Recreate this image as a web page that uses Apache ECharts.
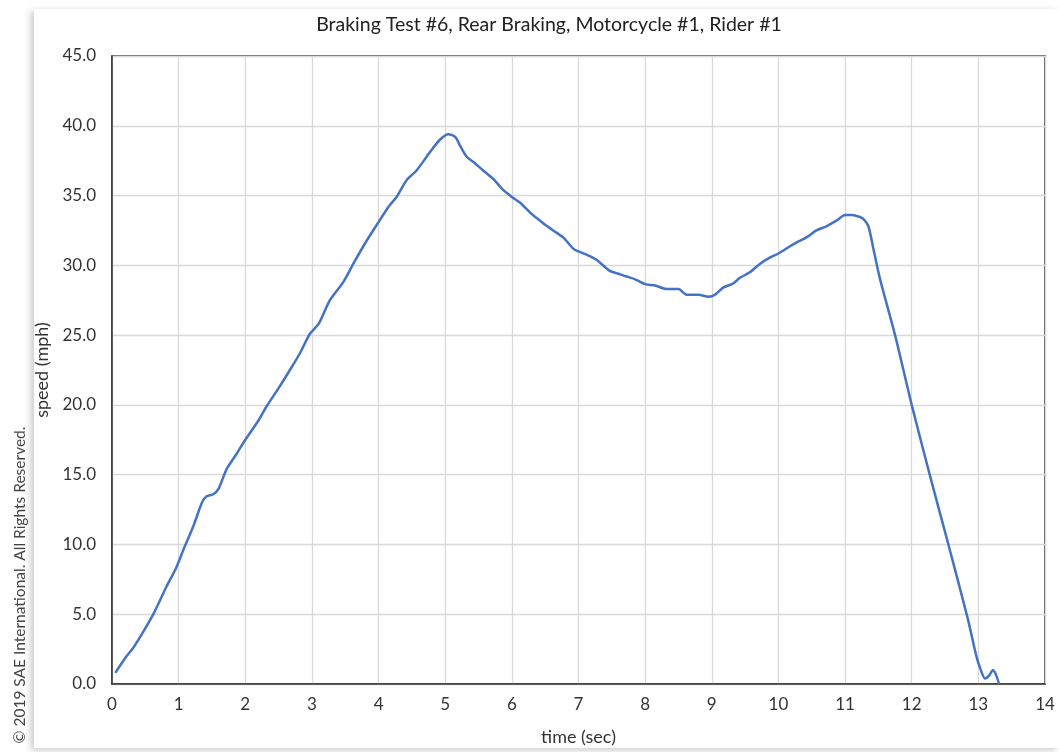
<!DOCTYPE html>
<html>
<head>
<meta charset="utf-8">
<script src="https://cdn.jsdelivr.net/npm/echarts@6/dist/echarts.min.js"></script>
<style>
  html, body { margin: 0; padding: 0; background: #ffffff; }
  #card {
    position: absolute; left: 34px; top: 9px; width: 1025px; height: 739px;
    background: #ffffff; box-shadow: -3px 2px 7px rgba(0,0,0,0.22);
  }
  #chart { position: absolute; left: 0; top: 0; width: 1059px; height: 752px; }
</style>
</head>
<body>
<div id="card"></div>
<div id="chart"></div>
<script>
// Speed trace of the braking run: time in seconds, speed in mph
const timeSec = [
  0.05, 0.22, 0.32, 0.47, 0.63, 0.82, 0.96, 1.07, 1.22, 1.35, 1.42, 1.52, 1.6, 1.72, 1.87,
  2.0, 2.2, 2.32, 2.5, 2.67, 2.82, 2.97, 3.1, 3.27, 3.47, 3.62, 3.8, 4.0, 4.15, 4.27,
  4.42, 4.57, 4.77, 4.92, 5.05, 5.15, 5.22, 5.32, 5.45, 5.57, 5.72, 5.87, 6.0, 6.12, 6.27,
  6.37, 6.5, 6.62, 6.77, 6.92, 7.0, 7.15, 7.27, 7.47, 7.6, 7.72, 7.85, 8.0, 8.15, 8.32,
  8.5, 8.62, 8.8, 8.95, 9.05, 9.17, 9.32, 9.42, 9.57, 9.72, 9.85, 10.0, 10.22, 10.42, 10.57,
  10.72, 10.87, 11.0, 11.09, 11.2, 11.27, 11.35, 11.42, 11.52, 11.75, 12.0, 12.27, 12.55, 12.84,
  12.97, 13.03, 13.1, 13.16, 13.22, 13.27, 13.31
];
const speedMph = [
  0.8, 2.0, 2.6, 3.75, 5.1, 7.0, 8.3, 9.6, 11.3, 13.0, 13.45, 13.6, 14.0, 15.4, 16.5,
  17.5, 18.9, 19.9, 21.2, 22.5, 23.7, 25.1, 25.8, 27.5, 28.8, 30.1, 31.6, 33.1, 34.2, 34.9,
  36.1, 36.8, 38.1, 39.0, 39.4, 39.2, 38.6, 37.8, 37.3, 36.8, 36.2, 35.4, 34.9, 34.5, 33.8,
  33.4, 32.9, 32.5, 32.0, 31.2, 31.0, 30.7, 30.4, 29.6, 29.4, 29.2, 29.0, 28.65, 28.55, 28.3,
  28.3, 27.9, 27.9, 27.75, 27.9, 28.4, 28.7, 29.1, 29.5, 30.1, 30.5, 30.85, 31.5, 32.0, 32.5,
  32.8, 33.2, 33.6, 33.6, 33.5, 33.35, 32.8, 31.3, 29.1, 25.0, 20.0, 15.0, 10.0, 4.7,
  2.0, 1.1, 0.4, 0.6, 1.0, 0.6, 0.0
];

const chartTitle = 'Braking Test #6, Rear Braking, Motorcycle #1, Rider #1';
const xAxisTitle = 'time (sec)';
const yAxisTitle = 'speed (mph)';
const copyrightNote = '\u00A9 2019 SAE International. All Rights Reserved.';

const FONT = 'Lato, "Liberation Sans", sans-serif';
const points = timeSec.map((t, i) => [t, speedMph[i]]);

const chart = echarts.init(document.getElementById('chart'), null, { renderer: 'canvas' });
chart.setOption({
  backgroundColor: 'transparent',
  animation: false,
  title: {
    text: chartTitle,
    left: 544, top: 10, textAlign: 'center',
    textStyle: { fontFamily: FONT, fontSize: 19.5, fontWeight: 'normal', color: '#222' }
  },
  grid: {
    left: 112, right: 14, top: 56, bottom: 68,
    show: true, borderColor: '#333', borderWidth: 1.5
  },
  xAxis: {
    type: 'value', min: 0, max: 14, interval: 1,
    name: xAxisTitle, nameLocation: 'middle', nameGap: 44,
    nameTextStyle: { fontFamily: FONT, fontSize: 18, color: '#333' },
    axisLine: { show: true, lineStyle: { color: '#333', width: 1.5 } },
    axisTick: { show: false },
    axisLabel: { fontFamily: FONT, fontSize: 17, color: '#333', margin: 12 },
    splitLine: { show: true, lineStyle: { color: '#d9d9d9', width: 1.3 } }
  },
  yAxis: {
    type: 'value', min: 0, max: 45, interval: 5,
    name: yAxisTitle, nameLocation: 'middle', nameGap: 56, nameRotate: 90,
    nameTextStyle: { fontFamily: FONT, fontSize: 18, color: '#333' },
    axisLine: { show: true, lineStyle: { color: '#333', width: 1.5 } },
    axisTick: { show: false },
    axisLabel: {
      fontFamily: FONT, fontSize: 17, color: '#333', margin: 16,
      formatter: v => v.toFixed(1)
    },
    splitLine: { show: true, lineStyle: { color: '#d9d9d9', width: 1.3 } }
  },
  graphic: [{
    type: 'text',
    x: 20, y: 585, rotation: Math.PI / 2,
    style: {
      text: copyrightNote, fontFamily: FONT, fontSize: 15.5, fill: '#444',
      align: 'center', verticalAlign: 'middle'
    }
  }],
  series: [{
    type: 'line',
    data: points,
    smooth: 0.25,
    showSymbol: false,
    lineStyle: { color: '#4472C4', width: 2.5 },
    z: 3
  }]
});
</script>
</body>
</html>
